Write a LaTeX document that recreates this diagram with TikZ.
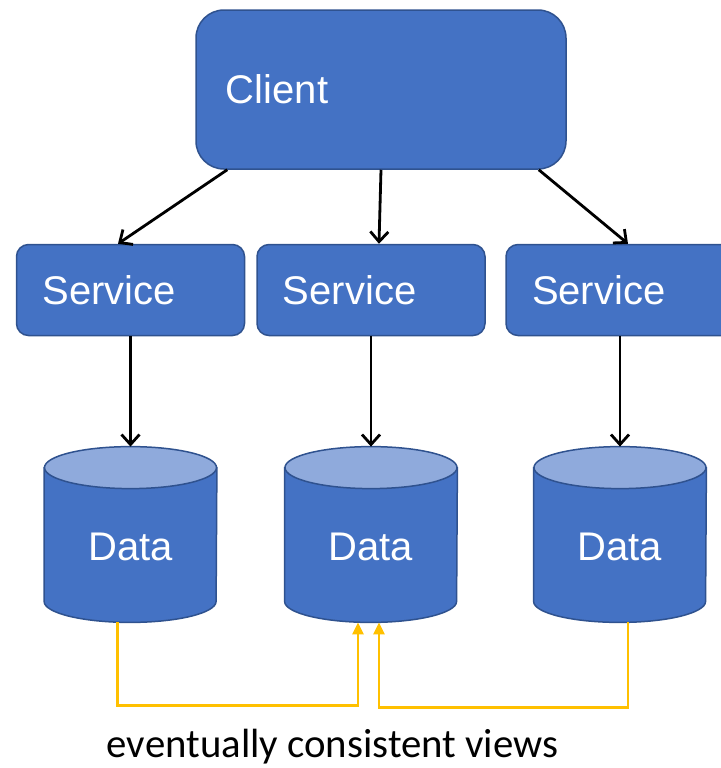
\documentclass[tikz,border=0pt]{standalone}
\usepackage{fontspec}
\setmainfont{Liberation Sans}
\newfontfamily\captionfont{Carlito}
\usetikzlibrary{arrows.meta, backgrounds}
\definecolor{boxblue}{HTML}{4472C4}
\definecolor{boxline}{HTML}{2F528F}
\definecolor{toplight}{HTML}{8FAADC}
\definecolor{syncyellow}{HTML}{FFC000}
\tikzset{
    % node styles
    client/.style = {draw=boxline, fill=boxblue, line width=0.75pt, rounded corners=14pt, text=white,
        font=\fontsize{20}{24}\selectfont, minimum width=185pt, minimum height=79.5pt,
        text width=155pt, inner xsep=15pt, align=left},
    service/.style = {draw=boxline, fill=boxblue, line width=0.75pt, rounded corners=6pt, text=white,
        font=\fontsize{20}{24}\selectfont, minimum width=114pt, minimum height=45.5pt,
        text width=88pt, inner xsep=13pt, align=left},
    data/.style = {minimum width=86pt, minimum height=87.5pt, text=white,
        font=\fontsize{20}{24}\selectfont, text height=26pt, text depth=0pt},
    % cylinder styles
    cyl body/.style = {draw=boxline, fill=boxblue, line width=0.75pt},
    cyl top/.style = {draw=boxline, fill=toplight, line width=0.75pt},
    % arrow styles
    call/.style = {-{Straight Barb[length=5pt, width=9pt]}, line width=1.4pt},
    sync/.style = {-{Triangle[length=6pt, width=5.5pt]}, draw=syncyellow, line width=1.4pt}
}

\begin{document}
\begin{tikzpicture}[x=0.5pt, y=-0.5pt, node distance=122.25pt]
        \useasboundingbox (0,0) rectangle (721,768);

        % client and services
        \node[client] (client) at (381,89.5) {Client};
        \node[service] (s1) at (130.5,290) {Service};
        \node[service] (s2) at (371,290) {Service};
        \node[service] (s3) at (620,290) {Service};

        % data stores
        \node[data] (d1) [below of=s1] {Data};
        \node[data] (d2) [below of=s2] {Data};
        \node[data] (d3) [below of=s3] {Data};

        % calls
        \draw[call] ([xshift=16pt]client.south west) -- ([xshift=-6.25pt]s1.north);
        \draw[call] (client.south) -- ([xshift=4pt]s2.north);
        \draw[call] ([xshift=-14pt]client.south east) -- ([xshift=4pt]s3.north);
        \draw[call] (s1) -- (d1);
        \draw[call] (s2) -- (d2);
        \draw[call] (s3) -- (d3);

        % replication lines
        \draw[sync] ([xshift=-6.5pt]d1.south) -- ++(0,83) -| ([xshift=-6.5pt]d2.south);
        \draw[sync] ([xshift=4pt]d3.south) -- ++(0,85) -| ([xshift=4pt]d2.south);

        \node[font=\captionfont\fontsize{20.4}{24}\selectfont, anchor=base] (views) at (332.5,757)
            {eventually consistent views};

        % draw cylinders behind the data labels
        \begin{pgfonlayer}{background}
            \filldraw[cyl body]
             ([yshift=-10.5pt]d1.north west) -- ([yshift=10.5pt]d1.south west)
                arc[start angle=180, end angle=360, x radius=43pt, y radius=10.5pt]
                -- ([yshift=-10.5pt]d1.north east) -- cycle
             ([yshift=-10.5pt]d2.north west) -- ([yshift=10.5pt]d2.south west)
                arc[start angle=180, end angle=360, x radius=43pt, y radius=10.5pt]
                -- ([yshift=-10.5pt]d2.north east) -- cycle
             ([yshift=-10.5pt]d3.north west) -- ([yshift=10.5pt]d3.south west)
                arc[start angle=180, end angle=360, x radius=43pt, y radius=10.5pt]
                -- ([yshift=-10.5pt]d3.north east) -- cycle;
            \filldraw[cyl top]
             ([yshift=-10.5pt]d1.north) ellipse [x radius=43pt, y radius=10.5pt]
             ([yshift=-10.5pt]d2.north) ellipse [x radius=43pt, y radius=10.5pt]
             ([yshift=-10.5pt]d3.north) ellipse [x radius=43pt, y radius=10.5pt];
        \end{pgfonlayer}

\end{tikzpicture}
\end{document}
